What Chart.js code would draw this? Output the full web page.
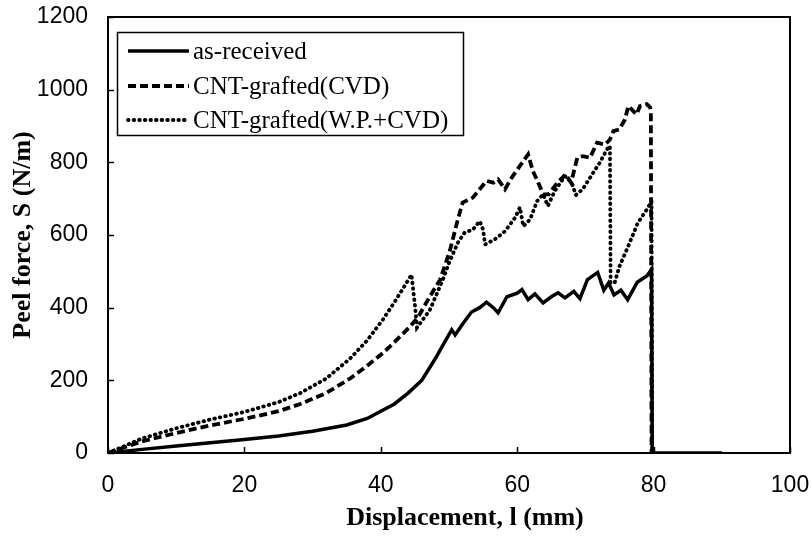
<!DOCTYPE html>
<html>
<head>
<meta charset="utf-8">
<script src="https://cdn.jsdelivr.net/npm/chart.js@4.4.1/dist/chart.umd.min.js"></script>
<style>
  body { margin: 0; background: #fff; }
  #peelChart { display: block; }
</style>
</head>
<body>
<canvas id="peelChart" width="812" height="537"></canvas>
<script>
// values
const seriesLabels = ['as-received', 'CNT-grafted(CVD)', 'CNT-grafted(W.P.+CVD)'];

const asReceivedX = [0, 5, 10, 15, 20, 25, 30, 35, 38, 40, 42, 44, 46, 48, 49.5, 50.4, 50.9, 52, 53.3, 54.5, 55.5, 56.5, 57.2, 58.5, 60, 60.7, 61.6, 62.6, 63.8, 65, 66, 67, 68.3, 69.2, 70.3, 71.8, 72.7, 73.4, 74.2, 75.2, 76.2, 77.6, 79, 79.7, 79.8, 90];
const asReceivedY = [0, 10, 19, 28, 37, 47, 60, 77, 95, 115, 135, 165, 200, 260, 310, 339, 325, 355, 388, 400, 415, 400, 386, 430, 440, 450, 422, 438, 413, 430, 441, 427, 445, 425, 477, 497, 448, 468, 435, 448, 422, 470, 487, 505, 0, 0];

const cvdX = [0, 5, 10, 15, 20, 25, 28.2, 32, 35.5, 38, 40.3, 42, 44.3, 45.5, 47.2, 48.7, 50.1, 51.3, 52, 53.5, 54.5, 55.5, 56.5, 57.2, 58.2, 59.2, 60.4, 61.6, 62.3, 63.3, 63.8, 64.6, 65.9, 67.1, 67.9, 68.8, 69.6, 70.7, 71.7, 72.9, 73.6, 74.1, 75, 75.8, 76.3, 77.5, 78, 79, 79.5, 79.6, 79.7];
const cvdY = [0, 32, 55, 76, 94, 115, 135, 165, 205, 240, 275, 305, 348, 375, 431, 477, 555, 643, 689, 703, 726, 749, 744, 753, 726, 758, 790, 822, 776, 735, 712, 712, 744, 767, 744, 812, 817, 813, 854, 849, 863, 886, 891, 918, 955, 932, 955, 960, 951, 940, 0];

const wpCvdX = [0, 5, 10, 15, 20, 25, 28.2, 32, 35.5, 38, 40.3, 42, 43.8, 44.5, 45, 45.3, 47.2, 49.1, 50.1, 51.3, 52.3, 53.5, 54.5, 55, 55.3, 56.7, 58.2, 59.7, 60.4, 60.9, 61.9, 62.9, 63.8, 64.5, 65.5, 67, 68, 68.6, 69.6, 70.7, 72.1, 73.3, 73.6, 73.7, 74.3, 75, 76.5, 77.7, 79, 79.7, 79.8];
const wpCvdY = [0, 40, 68, 92, 113, 140, 165, 205, 260, 310, 367, 415, 469, 491, 408, 345, 394, 477, 528, 579, 607, 615, 638, 615, 574, 588, 610, 648, 676, 624, 643, 693, 712, 680, 721, 762, 744, 710, 726, 758, 799, 840, 845, 468, 469, 514, 579, 634, 670, 693, 0];

const xTickValues = [0, 20, 40, 60, 80, 100];
const yTickValues = [0, 200, 400, 600, 800, 1000, 1200];

function toPoints(xs, ys) {
    return xs.map((x, i) => ({ x: x, y: ys[i] }));
}

// inward tick marks and the frame round the plot
const frameTicks = {
    id: 'frameTicks',
    afterDatasetsDraw(chart) {
        const ctx = chart.ctx;
        const area = chart.chartArea;
        const xs = chart.scales.x;
        const ys = chart.scales.y;
        ctx.save();
        ctx.strokeStyle = '#000';
        ctx.lineWidth = 2;
        ctx.strokeRect(area.left, area.top, area.right - area.left, area.bottom - area.top);
        ctx.lineWidth = 1.5;
        ctx.beginPath();
        xTickValues.forEach(v => {
            const px = Math.round(xs.getPixelForValue(v)) + 0.5;
            ctx.moveTo(px, area.bottom);
            ctx.lineTo(px, area.bottom - 6);
        });
        yTickValues.forEach(v => {
            const py = Math.round(ys.getPixelForValue(v)) + 0.5;
            ctx.moveTo(area.left, py);
            ctx.lineTo(area.left + 6, py);
        });
        ctx.stroke();
        ctx.restore();
    },
    afterDraw(chart) {
        const ctx = chart.ctx;
        ctx.save();
        ctx.fillStyle = '#000';
        ctx.font = 'bold 26px "Liberation Serif"';
        ctx.textAlign = 'center';
        ctx.textBaseline = 'alphabetic';
        ctx.fillText('Displacement, l (mm)', 465, 525);
        ctx.translate(30, 235);
        ctx.rotate(-Math.PI / 2);
        ctx.fillText('Peel force, S (N/m)', 0, 0);
        ctx.restore();

        // legend box in the upper left of the plot
        ctx.save();
        ctx.strokeStyle = '#000';
        ctx.lineWidth = 1.5;
        ctx.strokeRect(117.5, 32.5, 346, 103);
        const rows = [51, 86, 120];
        ctx.font = '25px "Liberation Serif"';
        ctx.textAlign = 'left';
        ctx.textBaseline = 'middle';
        chart.data.datasets.forEach((ds, i) => {
            ctx.beginPath();
            ctx.lineWidth = ds.borderWidth;
            ctx.lineCap = ds.borderCapStyle || 'butt';
            ctx.setLineDash(ds.borderDash || []);
            ctx.moveTo(128, rows[i]);
            ctx.lineTo(189, rows[i]);
            ctx.stroke();
            ctx.setLineDash([]);
            ctx.fillText(ds.label, 193, rows[i] + 1);
        });
        ctx.restore();
    }
};

const ctx = document.getElementById('peelChart').getContext('2d');
const peelChart = new Chart(ctx, {
    type: 'line',
    data: {
        datasets: [{
            label: seriesLabels[0],
            data: toPoints(asReceivedX, asReceivedY),
            borderColor: '#000',
            borderWidth: 3.5,
            pointRadius: 0,
            tension: 0
        }, {
            label: seriesLabels[1],
            data: toPoints(cvdX, cvdY),
            borderColor: '#000',
            borderWidth: 3.8,
            borderDash: [8, 4],
            pointRadius: 0,
            tension: 0
        }, {
            label: seriesLabels[2],
            data: toPoints(wpCvdX, wpCvdY),
            borderColor: '#000',
            borderWidth: 3.8,
            borderDash: [0.6, 5],
            borderCapStyle: 'round',
            pointRadius: 0,
            tension: 0
        }]
    },
    options: {
        responsive: false,
        animation: false,
        devicePixelRatio: 1,
        layout: { padding: { top: 17, right: 22, left: 0, bottom: 0 } },
        plugins: {
            legend: { display: false },
            tooltip: { enabled: false }
        },
        scales: {
            x: {
                type: 'linear',
                min: 0,
                max: 100,
                afterFit(scale) {
                    scale.height = 84;
                    scale.paddingLeft = 0;
                    scale.paddingRight = 0;
                },
                afterBuildTicks(scale) { scale.ticks = xTickValues.map(v => ({ value: v })); },
                grid: { display: false, drawTicks: false },
                border: { display: false },
                ticks: {
                    padding: 19,
                    color: '#000',
                    maxRotation: 0,
                    callback: v => String(v),
                    font: { family: '"Liberation Sans"', size: 23 }
                }
            },
            y: {
                type: 'linear',
                min: 0,
                max: 1200,
                afterFit(scale) {
                    scale.width = 108;
                    scale.paddingTop = 0;
                    scale.paddingBottom = 0;
                },
                afterBuildTicks(scale) { scale.ticks = yTickValues.map(v => ({ value: v })); },
                grid: { display: false, drawTicks: false },
                border: { display: false },
                ticks: {
                    padding: 20,
                    color: '#000',
                    callback: v => String(v),
                    font: { family: '"Liberation Sans"', size: 23 }
                }
            }
        }
    },
    plugins: [frameTicks]
});
</script>
</body>
</html>
